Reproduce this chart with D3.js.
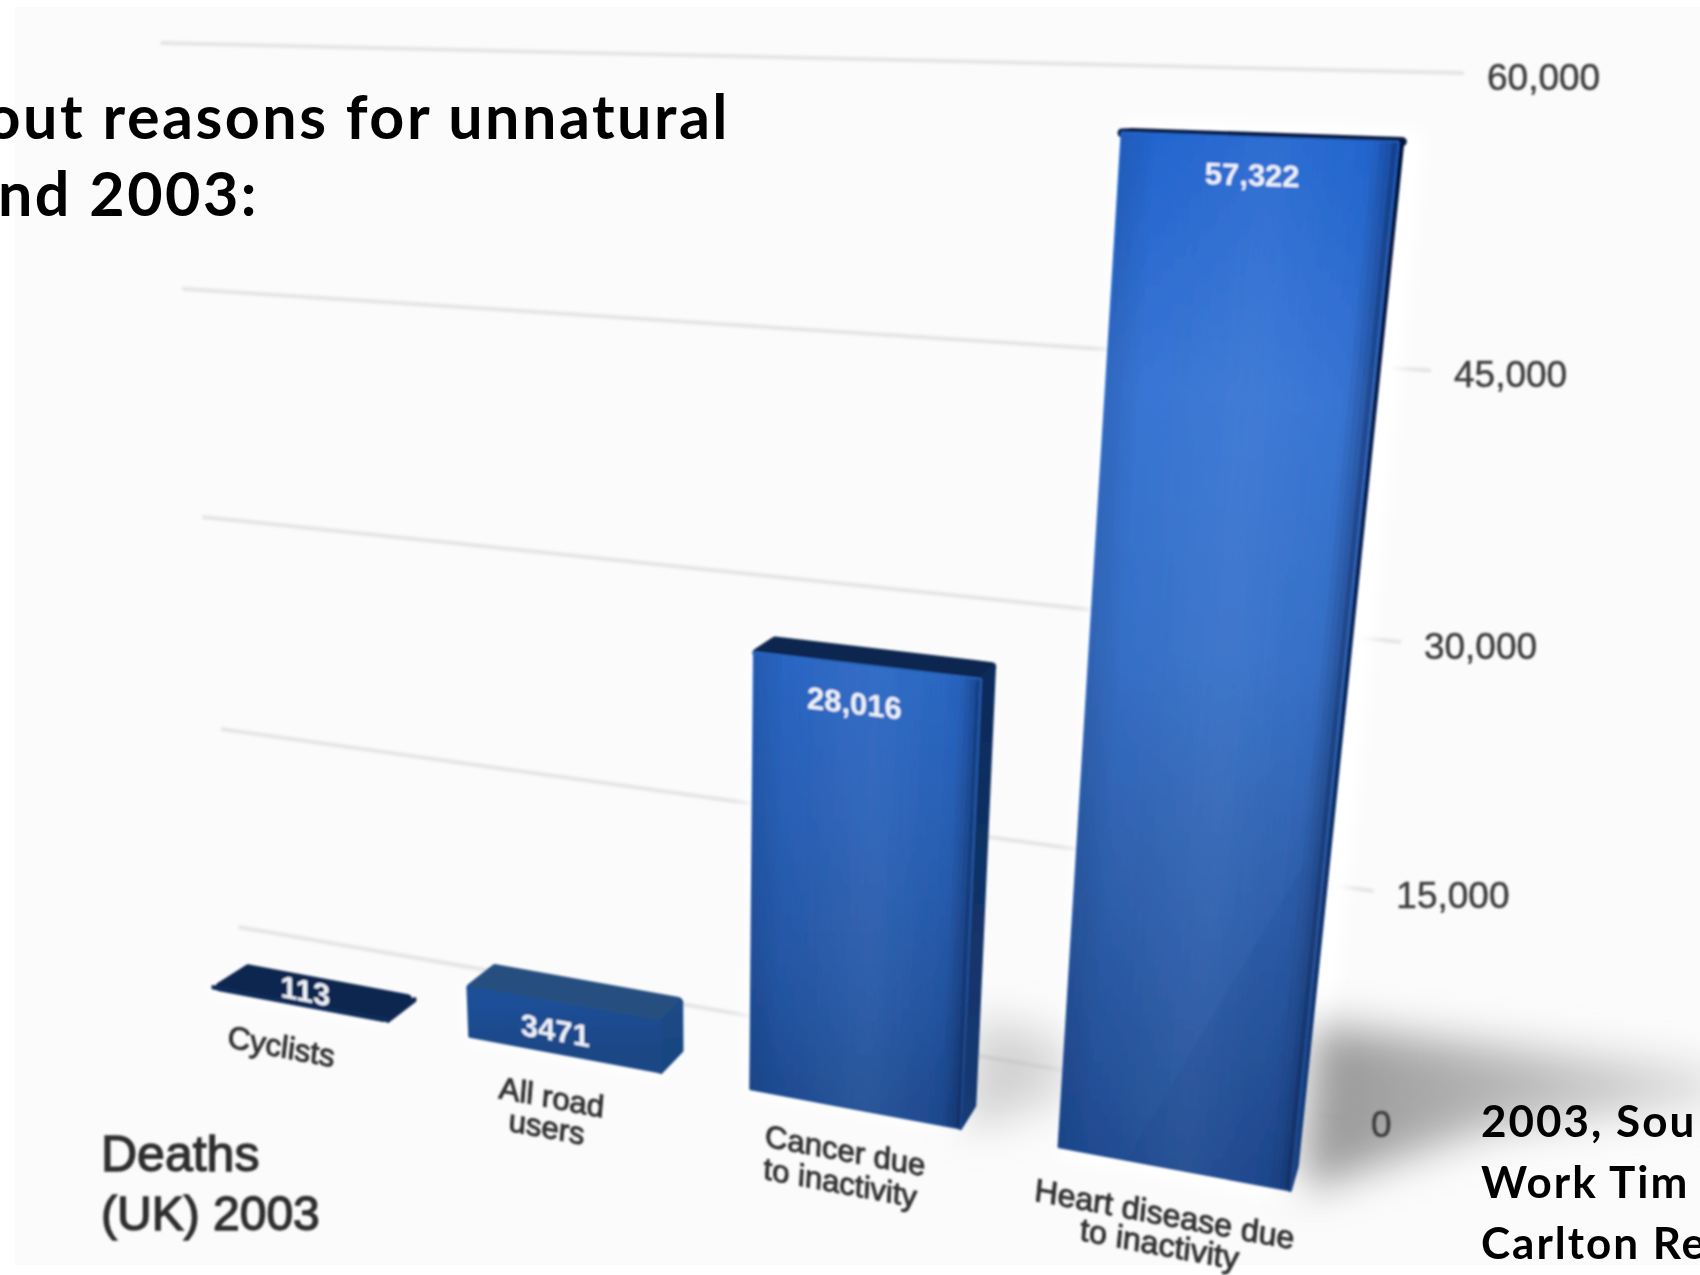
<!DOCTYPE html>
<html>
<head>
<meta charset="utf-8">
<script src="https://cdn.jsdelivr.net/npm/d3@7"></script>
<style>
  html, body { margin: 0; padding: 0; background: #ffffff; overflow: hidden; }
  svg { display: block; }
</style>
</head>
<body>
<svg id="chart" width="1700" height="1275"></svg>
<script>
// Deaths in the UK, 2003
const categories = ["Cyclists", "All road users", "Cancer due to inactivity", "Heart disease due to inactivity"];
const categoryLines = [["Cyclists"], ["All road", "users"], ["Cancer due", "to inactivity"], ["Heart disease due", "to inactivity"]];
const deaths = [113, 3471, 28016, 57322];
const valueLabels = ["113", "3471", "28,016", "57,322"];
const tickValues = [0, 15000, 30000, 45000, 60000];
const headingLines = ["out reasons for unnatural", "nd 2003:"];
const creditLines = ["2003, Sou", "Work Tim G", "Carlton Re"];
const unitLines = ["Deaths", "(UK) 2003"];

// Colour ramps per bar: front face top to bottom, side face, top face
const frontRamps = [
  ["#0f2b58", "#0f2b58"],
  ["#1e4f97", "#1c4a8e", "#1b4685"],
  ["#2a68c6", "#2a62b8", "#2659a8", "#1f4c92"],
  ["#2468d2", "#3a78d8", "#3873cb", "#2f60ac", "#204c92"]
];
const sideRamps = [
  ["#0c2650", "#0c2650"],
  ["#1c4c88", "#194680"],
  ["#0e2a5a", "#153a74"],
  ["#06183c", "#0c2a62", "#1a4080"]
];
const topFaces = ["#0c2650", "#274f80", "#0e2850", "#0a1f44"];
const topInset = [0.93, 0.97, 0.98, 1];

const W = 1700, H = 1275;
const svg = d3.select("#chart");
const defs = svg.append("defs");

// Maps the unit square onto a screen quadrilateral (p00, p10, p11, p01)
function perspective(p00, p10, p11, p01) {
  const dx1 = p10[0] - p11[0], dx2 = p01[0] - p11[0], sx = p00[0] - p10[0] + p11[0] - p01[0];
  const dy1 = p10[1] - p11[1], dy2 = p01[1] - p11[1], sy = p00[1] - p10[1] + p11[1] - p01[1];
  const det = dx1 * dy2 - dx2 * dy1;
  const g = (sx * dy2 - dx2 * sy) / det, h = (dx1 * sy - sx * dy1) / det;
  const a = p10[0] - p00[0] + g * p10[0], b = p01[0] - p00[0] + h * p01[0], c = p00[0];
  const d = p10[1] - p00[1] + g * p10[1], e = p01[1] - p00[1] + h * p01[1], f = p00[1];
  return (u, v) => {
    const w = g * u + h * v + 1;
    return [(a * u + b * v + c) / w, (d * u + e * v + f) / w];
  };
}

// Value axis and category bands in plane coordinates
const y = d3.scaleLinear().domain([0, 60000]).range([0, 1]);
const x = d3.scaleBand().domain(categories).range([0, 1]).paddingInner(0.31).paddingOuter(0);

// The wall carrying the gridlines and the nearer plane of the bars' front faces
const wall = perspective([238.5, 927], [1348, 1120], [1464, 73], [160.5, 43]);
const front = perspective([213, 988], [1290, 1190], [1404, 84], [136, 52]);

// Receding points of the boxes head towards a single vanishing point
const vanish = [1600, 100], depth = 0.022;
const back = p => [p[0] + depth * (vanish[0] - p[0]), p[1] + depth * (vanish[1] - p[1])];

const poly = pts => pts.map(p => p.map(n => n.toFixed(1)).join(",")).join(" ");
const barCorners = i => {
  const u0 = x(categories[i]), u1 = u0 + x.bandwidth(), v = y(deaths[i]);
  return { u0, u1, v, bl: front(u0, 0), br: front(u1, 0), tr: front(u1, v), tl: front(u0, v) };
};
// Pulls a polygon towards its centre, leaving room for a rounded stroke
const insetPoly = (pts, k) => {
  const c = d3.polygonCentroid(pts);
  return pts.map(p => [c[0] + k * (p[0] - c[0]), c[1] + k * (p[1] - c[1])]);
};

// Page plate
svg.append("rect").attr("x", 15).attr("y", 7).attr("width", W - 15).attr("height", H - 17).attr("fill", "#fbfbfb");

// Filters
const makeBlur = (id, sd) => defs.append("filter").attr("id", id).attr("filterUnits", "userSpaceOnUse")
  .attr("x", 0).attr("y", 0).attr("width", W + 200).attr("height", H + 200)
  .append("feGaussianBlur").attr("stdDeviation", sd);
makeBlur("soft", 1.3);
makeBlur("softGrid", 1.5);
makeBlur("softGlow", 9);
makeBlur("softShadow", 21);

// Gradient helper: stops evenly spread between two screen points
function ramp(id, colours, from, to) {
  const g = defs.append("linearGradient").attr("id", id).attr("gradientUnits", "userSpaceOnUse")
    .attr("x1", from[0]).attr("y1", from[1]).attr("x2", to[0]).attr("y2", to[1]);
  colours.forEach((c, i) => {
    g.append("stop").attr("offset", i / (colours.length - 1)).attr("stop-color", c);
  });
  return `url(#${id})`;
}

// Gridlines
const grid = svg.append("g").attr("filter", "url(#softGrid)");
grid.selectAll("line").data(tickValues).join("line")
  .attr("x1", d => wall(0, y(d))[0]).attr("y1", d => wall(0, y(d))[1])
  .attr("x2", d => wall(1, y(d))[0]).attr("y2", d => wall(1, y(d))[1])
  .attr("stroke", "#e4e4e4").attr("stroke-width", 4);

// Pale glow around the bars, which washes out the gridlines close to them
const glow = svg.append("g").attr("filter", "url(#softGlow)");
categories.forEach((name, i) => {
  const c = barCorners(i);
  glow.append("polygon").attr("points", poly([c.tl, c.tr, c.br, c.bl]))
    .attr("transform", i === 3 ? "translate(12,0)" : null)
    .attr("fill", "#ffffff").attr("stroke", "#ffffff").attr("stroke-width", i === 3 ? 30 : 12)
    .attr("stroke-linejoin", "round");
});

// Floor shadows cast towards the right of the two tall bars
const floorShadow = [
  { i: 3, offsets: [[25, -165], [430, -118], [430, -90], [200, -62], [12, 0]], colours: ["#929292", "#b4b4b4", "#dadada"], opacity: 0.95 },
  { i: 2, offsets: [[20, -110], [110, -88], [110, -30], [5, 0]], colours: ["#adadad", "#cccccc"], opacity: 0.6 }
];
const shadows = svg.append("g").attr("filter", "url(#softShadow)");
floorShadow.forEach(s => {
  const base = barCorners(s.i).br;
  const pts = s.offsets.map(o => [base[0] + o[0], base[1] + o[1]]);
  shadows.append("polygon")
    .attr("points", poly(pts))
    .attr("opacity", s.opacity)
    .attr("fill", ramp(`shadow${s.i}`, s.colours, pts[0], [pts[1][0], pts[0][1]]));
});

const chart = svg.append("g").attr("filter", "url(#soft)");

// Tick labels, left aligned just past the end of each gridline
const tickFormat = d3.format(",");
chart.append("g").selectAll("text").data(tickValues).join("text")
  .attr("x", d => wall(1, y(d))[0] + 23)
  .attr("y", d => wall(1, y(d))[1] + 17)
  .attr("font-family", "'Liberation Sans', Arial, sans-serif")
  .attr("font-size", 37).attr("fill", "#3e3e3e")
  .attr("stroke", "#3e3e3e").attr("stroke-width", 0.5)
  .text(tickFormat);

const edgeShade = d3.scaleLinear().domain([0, 0.14, 0.9, 0.97, 1]).range([0.16, 0.02, 0.03, 0.28, 0.55]);
const centreLight = d3.scaleLinear().domain([0.14, 0.55, 0.9]).range([0, 0.12, 0]).clamp(true);
const stripCount = 48;

// Bars: top face, side face, front face
const bars = chart.selectAll("g.bar").data(categories).join("g").attr("class", "bar");
bars.each(function (name, i) {
  const g = d3.select(this);
  const { u0, u1, v, bl, br, tr, tl } = barCorners(i);
  const tlBack = back(tl), trBack = back(tr), brBack = back(br);

  g.append("polygon").attr("points", poly(insetPoly([tl, tlBack, trBack, tr], topInset[i])))
    .attr("fill", topFaces[i]).attr("stroke", topFaces[i])
    .attr("stroke-width", i === 0 ? 9 : 9).attr("stroke-linejoin", "round");

  const sideFill = ramp(`side${i}`, sideRamps[i], trBack, brBack);
  g.append("polygon").attr("points", poly([tr, trBack, brBack, br]))
    .attr("fill", sideFill).attr("stroke", sideFill)
    .attr("stroke-width", 4).attr("stroke-linejoin", "round");

  const faceFill = ramp(`face${i}`, frontRamps[i], [(tl[0] + tr[0]) / 2, (tl[1] + tr[1]) / 2], [(bl[0] + br[0]) / 2, (bl[1] + br[1]) / 2]);
  g.append("polygon").attr("points", poly([tl, tr, br, bl]))
    .attr("fill", faceFill).attr("stroke", faceFill)
    .attr("stroke-width", 3).attr("stroke-linejoin", "round");

  // Strips running up the face, so the shading follows the bar's lean
  if (i >= 2) {
    d3.range(stripCount).forEach(s => {
      const ta = s / stripCount, tb = (s + 1) / stripCount, tm = (ta + tb) / 2;
      const ua = u0 + ta * (u1 - u0), ub = u0 + tb * (u1 - u0);
      const pts = poly([front(ua, v), front(ub, v), front(ub, 0), front(ua, 0)]);
      g.append("polygon").attr("points", pts).attr("fill", "#04143c").attr("opacity", edgeShade(tm));
      g.append("polygon").attr("points", pts).attr("fill", "#8ab4f0").attr("opacity", centreLight(tm));
    });
  }

  // Value printed on the bar
  const cu = (u0 + u1) / 2;
  const top = front(cu, v), base = front(cu, 0), topBack = back(top);
  const slope = (tr[1] - tl[1]) / (tr[0] - tl[0]);
  let at;
  if (deaths[i] < 1000) at = [(top[0] + topBack[0]) / 2 - 8, (top[1] + topBack[1]) / 2 - 2];
  else if (deaths[i] < 10000) at = [(top[0] + base[0]) / 2 - 8, (top[1] + base[1]) / 2 + 1];
  else at = [top[0] + (i === 3 ? -5 : -11), top[1] + 37];
  g.append("text")
    .attr("transform", `matrix(1,${slope.toFixed(3)},0,1,${at[0].toFixed(1)},${(at[1] + 11).toFixed(1)})`)
    .attr("text-anchor", "middle")
    .attr("font-family", "'Liberation Sans', Arial, sans-serif")
    .attr("font-weight", 700).attr("font-size", 31).attr("fill", "#eef2fa")
    .text(valueLabels[i]);

  // Category label on the floor in front of the bar
  const floorSlope = (br[1] - bl[1]) / (br[0] - bl[0]);
  const lean = (tl[0] - bl[0]) / (bl[1] - tl[1] || 1);
  const lines = categoryLines[i];
  const gap = [0, 30, 32, 30][i];
  const firstLine = [53, 54, 53, 57][i];
  const shift = [-19, -13, -9, -9][i];
  lines.forEach((line, k) => {
    g.append("text")
      .attr("transform", `matrix(1,${floorSlope.toFixed(3)},${(-Math.abs(lean) * 0.8 - 0.05).toFixed(3)},1,${(base[0] + shift - k * 5).toFixed(1)},${(base[1] + firstLine + k * gap).toFixed(1)})`)
      .attr("text-anchor", "middle")
      .attr("font-family", "'Liberation Sans', Arial, sans-serif")
      .attr("font-size", i === 3 ? 32 : 31).attr("fill", "#333333")
      .attr("stroke", "#333333").attr("stroke-width", 1)
      .text(line);
  });
});

// Slightly deeper shading in the lower right of the tallest bar's face
const tallest = barCorners(3), tallestW = tallest.u1 - tallest.u0;
const shadeBounds = [[0.3, 0], [0.93, 0], [0.93, 20000]].map(([t, val]) => front(tallest.u0 + t * tallestW, y(val)));
chart.append("polygon").attr("points", poly(shadeBounds)).attr("fill", "#0a2a6a").attr("opacity", 0.06);

// Unit caption, lower left
chart.append("g").selectAll("text").data(unitLines).join("text")
  .attr("x", 101).attr("y", (d, i) => 1171 + i * 59)
  .attr("font-family", "'Liberation Sans', Arial, sans-serif")
  .attr("font-size", (d, i) => i === 0 ? 50 : 48).attr("fill", "#2e2e2e")
  .attr("stroke", "#2e2e2e").attr("stroke-width", 1.4)
  .text(d => d);

// Heading and credit overlaid in sharp type
const overlayFont = "Lato, 'Noto Sans', sans-serif";
svg.append("g").selectAll("text").data(headingLines).join("text")
  .attr("x", (d, i) => i === 0 ? 730 : 259)
  .attr("y", (d, i) => 139 + i * 77)
  .attr("text-anchor", "end")
  .attr("font-family", overlayFont).attr("font-weight", 700)
  .attr("font-size", 61).attr("letter-spacing", 2.5).attr("fill", "#000000")
  .text(d => d);

svg.append("g").selectAll("text").data(creditLines).join("text")
  .attr("x", 1481)
  .attr("y", (d, i) => 1137 + i * 61)
  .attr("font-family", overlayFont).attr("font-weight", 700)
  .attr("font-size", 44).attr("letter-spacing", 2).attr("fill", "#000000")
  .text(d => d);
</script>
</body>
</html>
